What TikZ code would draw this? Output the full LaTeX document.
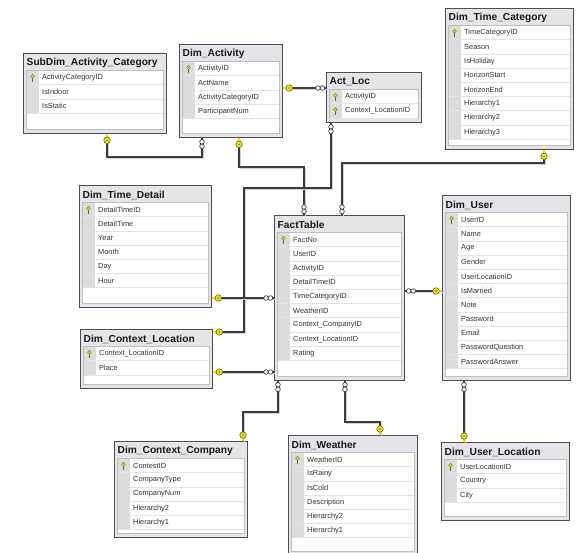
\documentclass[tikz,border=0pt]{standalone}
\usepackage{fontspec}
\setmainfont{Liberation Sans}
\usetikzlibrary{calc}

\definecolor{boxline}{HTML}{4E4E4E}
\definecolor{boxfill}{HTML}{E6E4EA}
\definecolor{stripfill}{HTML}{DCDCDC}
\definecolor{rowgray}{HTML}{E4E4E4}
\definecolor{keyyellow}{HTML}{E9E21C}
\definecolor{keyolive}{HTML}{6B6A20}
\definecolor{linkgray}{HTML}{3C3C3C}

% one table: name, x, y, width, height, key rows, title, fields
\newcommand{\dbtable}[8]{%
  \node[tblbox, minimum width=#4pt, minimum height=#5pt] (#1) at (#2,#3) {};
  \begin{scope}[shift={(#1.north west)}]
    \node[tbltitle] at (3.5,10) {#7};
    \filldraw[panel] (3,17.5) rectangle (#4-3,#5-4);
    \foreach \f [count=\i] in {#8} {
      \pgfmathsetmacro\rt{17.5+14.2*(\i-1)}
      \fill[stripfill] (3.5,\rt) rectangle (16,\rt+14.2);
      \draw[rowline] (3.5,\rt+14.2) -- (#4-3.5,\rt+14.2);
      \node[field] at (19,\rt+7.2) {\f};
      \ifnum\i>#6\else \pic at (9.5,\rt+7) {pk};\fi
    }
  \end{scope}
}

\tikzset{
  tblbox/.style={rectangle, draw=boxline, line width=1.3pt, fill=boxfill,
    inner sep=0pt, anchor=north west},
  tbltitle/.style={font=\bfseries\fontsize{10.2}{11}\selectfont, text=black!90,
    anchor=west, inner sep=0pt},
  field/.style={font=\fontsize{7.4}{8}\selectfont, text=black!80, anchor=west,
    inner sep=0pt},
  panel/.style={fill=white, draw=black!25, line width=0.4pt},
  rowline/.style={draw=rowgray, line width=0.5pt},
  rel/.style={draw=linkgray, line width=1.5pt,
    preaction={draw=black!18, line width=1.4pt,
      transform canvas={shift={(1.3pt,-1.3pt)}}}},
  keyknob/.style={circle, draw=keyolive, fill=keyyellow, line width=0.6pt,
    minimum size=6.5pt, inner sep=0pt},
  manyring/.style={circle, draw=linkgray, fill=white, line width=0.7pt,
    minimum size=4.6pt, inner sep=0pt},
  pics/pk/.style={code={
    \draw[keyolive, line width=0.9pt] (0,0.5) -- (0,4);
    \filldraw[draw=keyolive, fill=keyyellow, line width=0.3pt] (0,-1.2) circle (1.9pt);
  }},
  pics/onekey/.style={code={
    \draw[keyyellow, line width=2pt] (0,0) -- (0,4);
    \node[keyknob] at (0,6) {};
    \fill[keyolive] (0,6) circle (0.8pt);
  }},
  pics/many/.style={code={
    \node[manyring] at (0,3.5) {};
    \node[manyring] at (0,8) {};
  }},
}

\begin{document}
\begin{tikzpicture}[x=1pt, y=-1pt]
\fill[white] (0,0) rectangle (576,552);
\useasboundingbox (0,0) rectangle (576,552);

\dbtable{sub}{23}{53}{143}{80}{1}{SubDim\_Activity\_Category}
  {ActivityCategoryID, IsIndoor, IsStatic}
\dbtable{act}{179}{44}{103}{93}{1}{Dim\_Activity}
  {ActivityID, ActName, ActivityCategoryID, ParticipantNum}
\dbtable{actloc}{326}{72}{95}{50}{2}{Act\_Loc}
  {ActivityID, Context\_LocationID}
\dbtable{timecat}{445}{8}{128}{141}{1}{Dim\_Time\_Category}
  {TimeCategoryID, Season, IsHoliday, HorizonStart, HorizonEnd, Hierarchy1, Hierarchy2, Hierarchy3}
\dbtable{timedet}{79}{185}{132}{122}{1}{Dim\_Time\_Detail}
  {DetailTimeID, DetailTime, Year, Month, Day, Hour}
\dbtable{fact}{274}{215}{130}{165}{1}{FactTable}
  {FactNo, UserID, ActivityID, DetailTimeID, TimeCategoryID, WeatherID, Context\_CompanyID, Context\_LocationID, Rating}
\dbtable{user}{442}{195}{128}{185}{1}{Dim\_User}
  {UserID, Name, Age, Gender, UserLocationID, IsMarried, Note, Password, Email, PasswordQuestion, PasswordAnswer}
\dbtable{ctxloc}{80}{329}{132}{59}{1}{Dim\_Context\_Location}
  {Context\_LocationID, Place}
\dbtable{ctxcomp}{114}{441}{133}{96}{1}{Dim\_Context\_Company}
  {ContestID, CompanyType, CompanyNum, Hierarchy2, Hierarchy1}
\dbtable{weather}{288}{435}{129}{120}{1}{Dim\_Weather}
  {WeatherID, IsRainy, IsCold, Description, Hierarchy2, Hierarchy1}
\dbtable{userloc}{441}{442}{128}{78}{1}{Dim\_User\_Location}
  {UserLocationID, Country, City}

% relations
\draw[rel] (sub.south -| 107,0) |- (202,157) -- (act.south -| 202,0);
\draw[rel] (act.east |- 0,88) -- (actloc.west |- 0,88);
\draw[rel] (act.south -| 239,0) |- (304,167) -- (fact.north -| 304,0);
\draw[rel] (actloc.south -| 331,0) |- (244,188) |- (ctxloc.east |- 0,332);
\draw[rel] (timecat.south -| 544,0) |- (342,163) -- (fact.north -| 342,0);
\draw[rel] (timedet.east |- 0,298) -- (fact.west |- 0,298);
\draw[rel] (ctxloc.east |- 0,372) -- (fact.west |- 0,372);
\draw[rel] (fact.east |- 0,291) -- (user.west |- 0,291);
\draw[rel] (fact.south -| 278,0) |- (243,412) -- (ctxcomp.north -| 243,0);
\draw[rel] (fact.south -| 345,0) |- (380,422) -- (weather.north -| 380,0);
\draw[rel] (user.south -| 464,0) -- (userloc.north -| 464,0);

% ends
\pic at (sub.south -| 107,0) {onekey};
\pic at (act.south -| 202,0) {many};
\pic[rotate=90] at (act.east |- 0,88) {onekey};
\pic[rotate=-90] at (actloc.west |- 0,88) {many};
\pic at (act.south -| 239,0) {onekey};
\pic[rotate=180] at (fact.north -| 304,0) {many};
\pic at (actloc.south -| 331,0) {many};
\pic[rotate=90] at (ctxloc.east |- 0,332) {onekey};
\pic at (timecat.south -| 544,0) {onekey};
\pic[rotate=180] at (fact.north -| 342,0) {many};
\pic[rotate=90] at (timedet.east |- 0,298) {onekey};
\pic[rotate=-90] at (fact.west |- 0,298) {many};
\pic[rotate=90] at (ctxloc.east |- 0,372) {onekey};
\pic[rotate=-90] at (fact.west |- 0,372) {many};
\pic[rotate=90] at (fact.east |- 0,291) {many};
\pic[rotate=-90] at (user.west |- 0,291) {onekey};
\pic at (fact.south -| 278,0) {many};
\pic[rotate=180] at (ctxcomp.north -| 243,0) {onekey};
\pic at (fact.south -| 345,0) {many};
\pic[rotate=180] at (weather.north -| 380,0) {onekey};
\pic at (user.south -| 464,0) {many};
\pic[rotate=180] at (userloc.north -| 464,0) {onekey};
\end{tikzpicture}
\end{document}
